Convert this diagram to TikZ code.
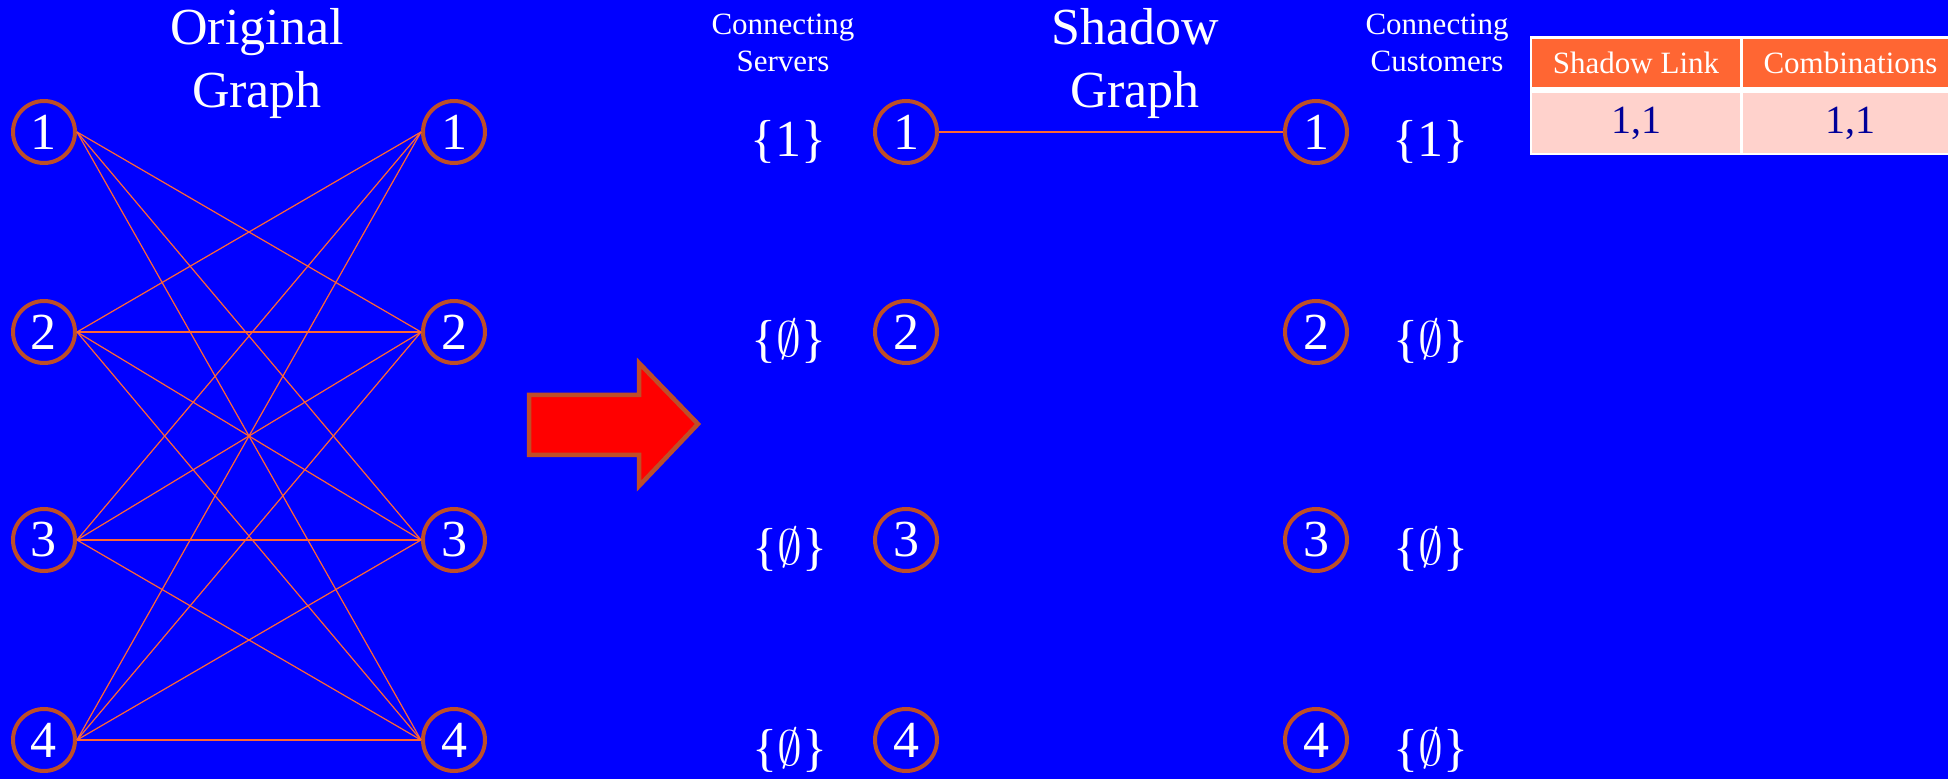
\documentclass[tikz,border=0pt]{standalone}
\usepackage{fontspec}
\setmainfont{Liberation Serif}
\definecolor{bgblue}{RGB}{0,0,255}
\definecolor{ring}{RGB}{190,78,40}
\definecolor{linkc}{RGB}{255,102,51}
\definecolor{hdrfill}{RGB}{255,102,51}
\definecolor{rowfill}{RGB}{255,210,204}
\definecolor{rowtext}{RGB}{0,0,153}
\begin{document}
\begin{tikzpicture}[x=0.5pt,y=-0.5pt,
  vertex/.style={circle, draw=ring, line width=2pt, minimum size=31pt, inner sep=0pt,
    text=white, font=\fontsize{26}{30}\selectfont},
  link/.style={draw=linkc, line width=0.6pt},
  title/.style={text=white, align=center, inner sep=0pt, font=\fontsize{26}{31.5}\selectfont},
  caption/.style={text=white, align=center, inner sep=0pt, font=\fontsize{15.5}{18.5}\selectfont},
  setlbl/.style={text=white, anchor=base, inner sep=0pt, font=\fontsize{26}{30}\selectfont},
  hdr/.style={fill=hdrfill, text=white, inner sep=0pt, font=\fontsize{15.5}{18}\selectfont},
  cell/.style={fill=rowfill, text=rowtext, inner sep=0pt, font=\fontsize{20}{24}\selectfont}]

% background
\useasboundingbox (0,0) rectangle (1948,779);
\fill[bgblue] (0,0) rectangle (1948,779);

% ---------- original graph ----------
\node[title] (otitle) at (257,64) {Original\\Graph};
\foreach \i/\y in {1/132,2/332,3/540,4/740}{
  \node[vertex] (L\i) at (44,\y) {\i};
  \node[vertex] (R\i) at (454,\y) {\i};
}
\foreach \a/\b in {1/2,1/3,1/4,2/1,2/2,2/3,2/4,3/1,3/2,3/3,3/4,4/1,4/2,4/3,4/4}{
  \draw[link] (L\a.east) -- (R\b.west);
}

% ---------- transformation arrow ----------
\draw[fill=red, draw=ring, line width=2.25pt, line join=miter]
  (529,395) -- (639,395) -- (639,363) -- (698,424) -- (639,486) -- (639,455) -- (529,455) -- cycle;

% ---------- shadow graph ----------
\node[caption] (cserv) at (783,43) {Connecting\\Servers};
\node[title] (stitle) at (1135,64) {Shadow\\Graph};
\node[caption] (ccust) at (1437,43) {Connecting\\Customers};
\foreach \i/\y in {1/132,2/332,3/540,4/740}{
  \node[vertex] (S\i) at (906,\y) {\i};
  \node[vertex] (T\i) at (1316,\y) {\i};
}
\draw[link] (S1.east) -- (T1.west);

% connecting sets
\node[setlbl] (ss1) at (788,157) {\{1\}};
\node[setlbl] (ss2) at (789,357) {\{$\emptyset$\}};
\node[setlbl] (ss3) at (790,565) {\{$\emptyset$\}};
\node[setlbl] (ss4) at (790,765) {\{$\emptyset$\}};
\node[setlbl] (cs1) at (1430,157) {\{1\}};
\node[setlbl] (cs2) at (1431,357) {\{$\emptyset$\}};
\node[setlbl] (cs3) at (1431,565) {\{$\emptyset$\}};
\node[setlbl] (cs4) at (1431,765) {\{$\emptyset$\}};

% ---------- table ----------
\begin{scope}
  \clip (0,0) rectangle (1948,779);
  \fill[white] (1530,36) rectangle (1970,155);
  \node[hdr, minimum width=104pt, minimum height=24pt] (h1) at (1636,63) {Shadow Link};
  \node[hdr, minimum width=107.5pt, minimum height=24pt] (h2) at (1850.5,63) {Combinations};
  \node[cell, minimum width=104pt, minimum height=30pt] (c1) at (1636,123) {1,1};
  \node[cell, minimum width=107.5pt, minimum height=30pt] (c2) at (1850.5,123) {1,1};
\end{scope}
\end{tikzpicture}
\end{document}
